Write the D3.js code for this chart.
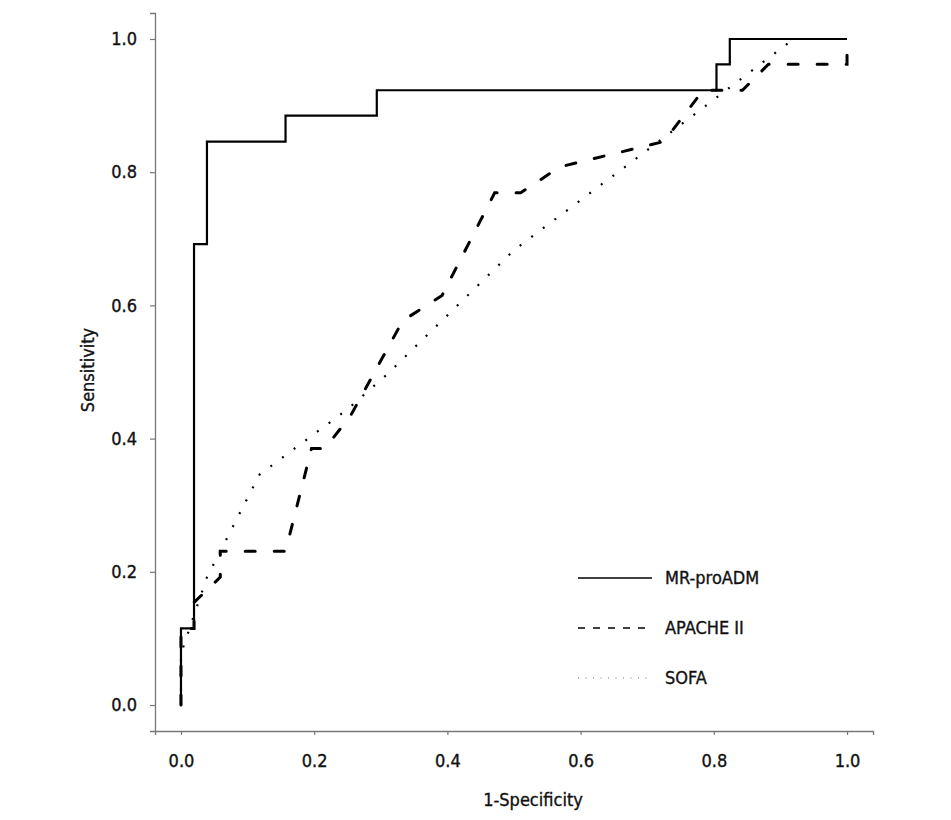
<!DOCTYPE html>
<html>
<head>
<meta charset="utf-8">
<script src="https://cdn.jsdelivr.net/npm/d3@7"></script>
<style>
  html, body { margin: 0; padding: 0; background: #fff; }
  svg { display: block; }
  text { font-family: "Liberation Sans Narrow", "DejaVu Sans Condensed", "DejaVu Sans", sans-serif; font-stretch: condensed; fill: #111; stroke: #111; stroke-width: 0.35px; }
</style>
</head>
<body>
<svg id="chart" width="951" height="820"></svg>
<script>
// ---- data (1-Specificity, Sensitivity) ----
const seriesNames = ["MR-proADM", "APACHE II", "SOFA"];
const mrproadmX = [0, 0, 0.0196, 0.0196, 0.039, 0.039, 0.157, 0.157, 0.294, 0.294, 0.804, 0.804, 0.824, 0.824, 1];
const mrproadmY = [0, 0.115, 0.115, 0.692, 0.692, 0.846, 0.846, 0.885, 0.885, 0.923, 0.923, 0.962, 0.962, 1, 1];
const apacheX = [0, 0, 0.0196, 0.0196, 0.059, 0.059, 0.157, 0.196, 0.216, 0.255, 0.333, 0.392, 0.471, 0.51, 0.569, 0.725, 0.784, 0.843, 0.882, 1, 1];
const apacheY = [0, 0.115, 0.115, 0.154, 0.192, 0.231, 0.231, 0.385, 0.385, 0.435, 0.577, 0.615, 0.769, 0.769, 0.808, 0.846, 0.923, 0.923, 0.962, 0.962, 1];
const sofaX = [0, 0, 0.039, 0.118, 0.157, 0.25, 0.31, 0.5, 0.68, 0.92, 1];
const sofaY = [0, 0.077, 0.192, 0.346, 0.375, 0.444, 0.497, 0.683, 0.818, 1, 1];
const xTicks = [0, 0.2, 0.4, 0.6, 0.8, 1.0];
const yTicks = [0, 0.2, 0.4, 0.6, 0.8, 1.0];
const xTitle = "1-Specificity";
const yTitle = "Sensitivity";

const svg = d3.select("#chart");
const x = d3.scaleLinear().domain([-0.039, 1.039]).range([155, 873]);
const y = d3.scaleLinear().domain([-0.039, 1.039]).range([731, 13]);
const FONT = '"Liberation Sans Narrow", "DejaVu Sans Condensed", "DejaVu Sans", sans-serif';
const FS = 18;

// axes
const gx = svg.append("g").attr("transform", "translate(0,731)")
  .call(d3.axisBottom(x).tickValues(xTicks).tickFormat(d3.format(".1f")).tickSizeOuter(0).tickSize(4).tickPadding(19));
const gy = svg.append("g").attr("transform", "translate(155,0)")
  .call(d3.axisLeft(y).tickValues(yTicks).tickFormat(d3.format(".1f")).tickSizeOuter(0).tickSize(5).tickPadding(13));
[gx, gy].forEach(g => {
  g.select(".domain").attr("stroke", "#777").attr("stroke-width", 1.3);
  g.selectAll(".tick line").attr("stroke", "#777").attr("stroke-width", 1.2);
  g.selectAll(".tick text").attr("font-size", FS).attr("font-family", FONT)
    .style("font-stretch", "condensed").attr("fill", "#111");
});

svg.append("text").attr("x", 533).attr("y", 806).attr("text-anchor", "middle")
  .attr("font-size", FS).text(xTitle);
svg.append("text").attr("transform", "translate(94,370) rotate(-90)").attr("text-anchor", "middle")
  .attr("font-size", FS).text(yTitle);

// curves
const line = d3.line().x(d => x(d[0])).y(d => y(d[1]));
const zip = (a, b) => a.map((v, i) => [v, b[i]]);
const styles = [
  { w: 2.2, dash: null, cap: "butt" },
  { w: 3, dash: "10,19", cap: "round" },
  { w: 2.2, dash: "2,12.5", cap: "butt" }
];
const series = [zip(mrproadmX, mrproadmY), zip(apacheX, apacheY), zip(sofaX, sofaY)];
series.forEach((s, i) => {
  svg.append("path").datum(s).attr("d", line)
    .attr("fill", "none").attr("stroke", "#000")
    .attr("stroke-width", styles[i].w)
    .attr("stroke-linecap", styles[i].cap)
    .attr("stroke-linejoin", "miter")
    .attr("stroke-dasharray", styles[i].dash);
});

// legend
const legStyles = [
  { w: 1.3, dash: null, col: "#000" },
  { w: 1.5, dash: "7,8", col: "#000" },
  { w: 1.2, dash: "1,6.5", col: "#777" }
];
seriesNames.forEach((n, i) => {
  const ly = 578 + i * 50;
  svg.append("line").attr("x1", 578).attr("x2", 652).attr("y1", ly).attr("y2", ly)
    .attr("stroke", legStyles[i].col).attr("stroke-width", legStyles[i].w)
    .attr("stroke-dasharray", legStyles[i].dash);
  svg.append("text").attr("x", 665).attr("y", ly).attr("dy", "0.36em")
    .attr("font-size", FS).text(n);
});
</script>
</body>
</html>
